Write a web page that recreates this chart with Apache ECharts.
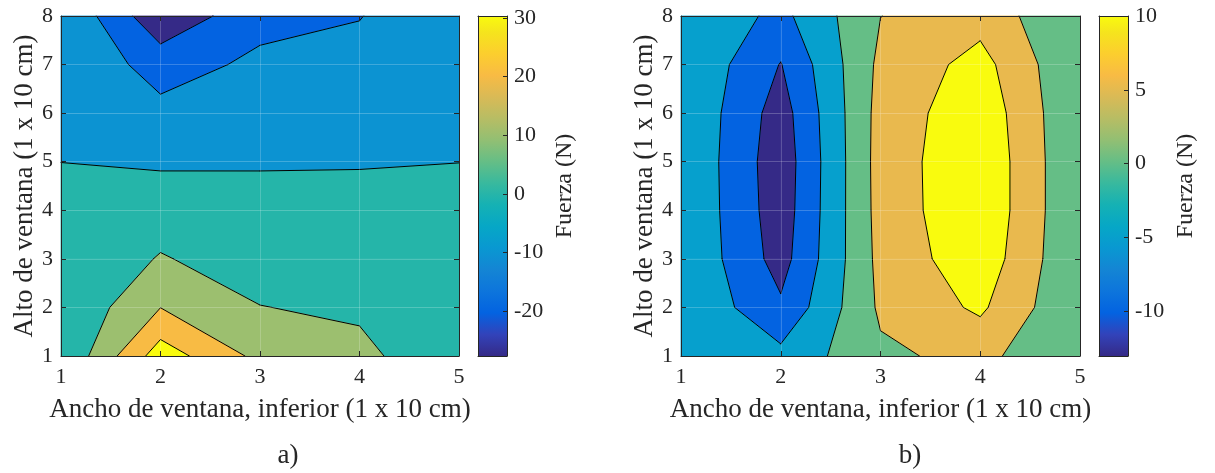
<!DOCTYPE html>
<html><head><meta charset="utf-8">
<script src="https://cdn.jsdelivr.net/npm/echarts@6/dist/echarts.min.js"></script>
<style>html,body{margin:0;padding:0;background:#fff}#c{width:1215px;height:473px}</style>
</head><body><div id="c"></div>
<script>
// ---------- data ----------
const xVals = [1, 2, 3, 4, 5];
const yVals = [1, 2, 3, 4, 5, 6, 7, 8];
// rows: y = 1 (bottom) .. 8 (top); columns: x = 1..5
const zA = [
  [0.3, 35.2, 17.3, 13.1, 0.5],
  [0.5, 19.9, 10.26, 8.1, 4.0],
  [0.3, 10.75, 4.98, 6.0, 3.0],
  [3.0, 5.0, 4.0, 3.0, 2.0],
  [-0.05, -1.17, -0.94, -0.57, -0.05],
  [-1.5, -7.18, -4.0, -3.0, -1.5],
  [-0.7, -14.4, -7.9, -7.3, -2.0],
  [-0.2, -27.6, -13.2, -10.3, -2.8]
];
const zB = [
  [-0.1, -3.6, 4.1, 6.4, 0.1],
  [-0.1, -9.21, 5.83, 10.85, 0.1],
  [-0.1, -12.0, 6.5, 13.25, 0.1],
  [-0.1, -12.75, 6.86, 14.2, 0.1],
  [-0.1, -13.05, 7.0, 14.2, 0.1],
  [-0.1, -12.3, 6.8, 13.5, 0.1],
  [-0.1, -10.2, 6.14, 11.8, 0.1],
  [-0.1, -6.4, 4.95, 8.13, 0.1]
];
const levelsA = [-20, -10, 0, 10, 20, 30];
const levelsB = [-10, -5, 0, 5, 10];
const cbarRangeA = [-27.6, 30.3];
const cbarRangeB = [-13.05, 10];
const cbarTicksA = [-20, -10, 0, 10, 20, 30];
const cbarTicksB = [-10, -5, 0, 5, 10];
const xTitle = 'Ancho de ventana, inferior (1 x 10 cm)';
const yTitle = 'Alto de ventana (1 x 10 cm)';
const cTitle = 'Fuerza (N)';
const panelLabels = ['a)', 'b)'];

// ---------- styles ----------
const bandColorsA = ['#352a87', '#0363e1', '#0c93d2', '#25b5a9', '#9cbf6f', '#f8bb44', '#f9fb0e'];
const bandColorsB = ['#352a87', '#0363e1', '#06a0cd', '#65be86', '#e9b94e', '#f9fb0e'];
const parulaStops = [
  [0, '#352a87'], [4, '#3243ba'], [8, '#0363e1'], [12, '#0d75dc'], [16, '#1485d4'],
  [20, '#0998d1'], [24, '#06a7c6'], [28, '#15b1b4'], [32, '#38b99e'], [36, '#65be86'],
  [40, '#92bf73'], [44, '#b7bd64'], [48, '#d9ba56'], [52, '#f8bb44'], [56, '#fcce2e'],
  [60, '#f5e41d'], [63, '#f9fb0e']
];
const FONT = '"Liberation Serif", "Times New Roman", serif';
const INK = '#262626';

// ---------- contour geometry (from the grid values) ----------
function clip(poly, L, keepAbove) {
  if (!isFinite(L)) return poly;
  const inside = p => keepAbove ? p[2] >= L : p[2] <= L;
  const res = [];
  for (let k = 0; k < poly.length; k++) {
    const a = poly[k], b = poly[(k + 1) % poly.length];
    const ia = inside(a), ib = inside(b);
    if (ia) res.push(a);
    if (ia !== ib) {
      const t = (L - a[2]) / (b[2] - a[2]);
      res.push([a[0] + t * (b[0] - a[0]), a[1] + t * (b[1] - a[1]), L]);
    }
  }
  return res;
}
function cellCorners(z, i, j) {
  return [
    [xVals[i], yVals[j], z[j][i]],
    [xVals[i + 1], yVals[j], z[j][i + 1]],
    [xVals[i + 1], yVals[j + 1], z[j + 1][i + 1]],
    [xVals[i], yVals[j + 1], z[j + 1][i]]
  ];
}
function bandPolys(z, levels) {
  const bounds = [-Infinity].concat(levels, [Infinity]);
  const out = [];
  for (let j = 0; j < yVals.length - 1; j++) {
    for (let i = 0; i < xVals.length - 1; i++) {
      const quad = cellCorners(z, i, j);
      for (let b = 0; b < bounds.length - 1; b++) {
        let p = clip(quad, bounds[b], true);
        p = clip(p, bounds[b + 1], false);
        if (p.length >= 3) out.push({ band: b, pts: p });
      }
    }
  }
  return out;
}
function contourSegs(z, levels) {
  const segs = [];
  for (let j = 0; j < yVals.length - 1; j++) {
    for (let i = 0; i < xVals.length - 1; i++) {
      const c = cellCorners(z, i, j);
      levels.forEach(L => {
        const pts = [];
        for (let k = 0; k < 4; k++) {
          const a = c[k], b = c[(k + 1) % 4];
          if ((a[2] < L) !== (b[2] < L)) {
            const t = (L - a[2]) / (b[2] - a[2]);
            pts.push([a[0] + t * (b[0] - a[0]), a[1] + t * (b[1] - a[1])]);
          } else {
            pts.push(null);
          }
        }
        const got = pts.map((p, k) => p ? k : -1).filter(k => k >= 0);
        if (got.length === 2) segs.push([pts[got[0]], pts[got[1]]]);
        else if (got.length === 4) {
          const center = (c[0][2] + c[1][2] + c[2][2] + c[3][2]) / 4;
          if ((center < L) === (c[0][2] < L)) {
            segs.push([pts[0], pts[1]]); segs.push([pts[2], pts[3]]);
          } else {
            segs.push([pts[3], pts[0]]); segs.push([pts[1], pts[2]]);
          }
        }
      });
    }
  }
  return segs;
}

const polysA = bandPolys(zA, levelsA), polysB = bandPolys(zB, levelsB);
const segsA = contourSegs(zA, levelsA), segsB = contourSegs(zB, levelsB);

function fillSeries(polys, colors, gi) {
  return {
    type: 'custom', xAxisIndex: gi * 2, yAxisIndex: gi * 2, z: 2, silent: true,
    data: polys.map((p, k) => [p.pts[0][0], p.pts[0][1], k]),
    encode: { x: 0, y: 1 },
    renderItem: (params, api) => {
      const p = polys[params.dataIndex];
      const pts = p.pts.map(q => api.coord([q[0], q[1]]));
      const col = colors[p.band];
      return { type: 'polygon', shape: { points: pts }, style: { fill: col, stroke: col, lineWidth: 0.8 } };
    }
  };
}
function lineSeries(segs, gi) {
  return {
    type: 'custom', xAxisIndex: gi * 2, yAxisIndex: gi * 2, z: 3, silent: true,
    data: segs.map((s, k) => [s[0][0], s[0][1], k]),
    encode: { x: 0, y: 1 },
    renderItem: (params, api) => {
      const s = segs[params.dataIndex];
      const a = api.coord(s[0]), b = api.coord(s[1]);
      return { type: 'line', shape: { x1: a[0], y1: a[1], x2: b[0], y2: b[1] },
               style: { stroke: '#000', lineWidth: 1, lineCap: 'round' } };
    }
  };
}
function cbarSeries(range, gi) {
  return {
    type: 'custom', xAxisIndex: gi * 2, yAxisIndex: gi * 2, z: 2, silent: true,
    data: [[0, range[0], 1, range[1]]],
    renderItem: (params, api) => {
      const p0 = api.coord([0, range[0]]), p1 = api.coord([1, range[1]]);
      const grad = new echarts.graphic.LinearGradient(0, 1, 0, 0,
        parulaStops.map(s => ({ offset: s[0] / 63, color: s[1] })));
      return { type: 'rect', shape: { x: p0[0], y: p1[1], width: p1[0] - p0[0], height: p0[1] - p1[1] },
               style: { fill: grad } };
    }
  };
}

// ---------- axes ----------
const axLine = { show: true, onZero: false, lineStyle: { color: INK, width: 1 } };
const axTick = { show: true, inside: true, length: 5, lineStyle: { color: INK, width: 1 } };
const axLab = { color: INK, fontFamily: FONT, fontSize: 22 };
const nameStyle = { color: INK, fontFamily: FONT, fontSize: 27 };
const gridSplit = { show: true, showMinLine: false, showMaxLine: false, lineStyle: { color: 'rgba(255,255,255,0.2)', width: 1 } };

const xAxes = [], yAxes = [];
function addPanel(g) {
  xAxes.push({ type: 'value', gridIndex: g, position: 'bottom', min: 1, max: 5, interval: 1,
    axisLine: axLine, axisTick: axTick, axisLabel: Object.assign({ margin: 10, showMinLabel: true, showMaxLabel: true }, axLab),
    splitLine: gridSplit, name: xTitle, nameLocation: 'middle', nameGap: 40, nameTextStyle: nameStyle, z: 10 });
  xAxes.push({ type: 'value', gridIndex: g, position: 'top', min: 1, max: 5, interval: 1,
    axisLine: axLine, axisTick: axTick, axisLabel: { show: false }, splitLine: { show: false }, z: 10 });
  yAxes.push({ type: 'value', gridIndex: g, position: 'left', min: 1, max: 8, interval: 1,
    axisLine: axLine, axisTick: axTick, axisLabel: Object.assign({ margin: 8, showMinLabel: true, showMaxLabel: true }, axLab),
    splitLine: gridSplit, name: yTitle, nameLocation: 'middle', nameGap: 22, nameRotate: 90, nameTextStyle: nameStyle, z: 10 });
  yAxes.push({ type: 'value', gridIndex: g, position: 'right', min: 1, max: 8, interval: 1,
    axisLine: axLine, axisTick: axTick, axisLabel: { show: false }, splitLine: { show: false }, z: 10 });
}
function addCbar(g, range, ticks) {
  const plain = { type: 'value', gridIndex: g, min: 0, max: 1, axisLine: axLine, axisTick: { show: false },
    axisLabel: { show: false }, splitLine: { show: false }, z: 10 };
  xAxes.push(Object.assign({ position: 'bottom' }, plain));
  xAxes.push(Object.assign({ position: 'top' }, plain));
  yAxes.push({ type: 'value', gridIndex: g, position: 'right', min: range[0], max: range[1],
    axisLine: axLine,
    axisTick: { show: true, inside: true, length: 4, lineStyle: { color: INK, width: 1 }, customValues: ticks },
    axisLabel: Object.assign({ margin: 7, customValues: ticks }, axLab),
    splitLine: { show: false }, name: cTitle, nameLocation: 'middle', nameGap: 46, nameRotate: 90,
    nameTextStyle: { color: INK, fontFamily: FONT, fontSize: 24 }, z: 10 });
  yAxes.push({ type: 'value', gridIndex: g, position: 'left', min: range[0], max: range[1],
    axisLine: axLine, axisTick: { show: false }, axisLabel: { show: false }, splitLine: { show: false }, z: 10 });
}
addPanel(0); addCbar(1, cbarRangeA, cbarTicksA); addPanel(2); addCbar(3, cbarRangeB, cbarTicksB);

const chart = echarts.init(document.getElementById('c'), null, { renderer: 'canvas' });
chart.setOption({
  animation: false,
  backgroundColor: '#fff',
  grid: [
    { left: 61, top: 16, width: 398, height: 340 },
    { left: 478, top: 16, width: 29, height: 340 },
    { left: 681, top: 16, width: 399, height: 340 },
    { left: 1099, top: 16, width: 29, height: 340 }
  ],
  xAxis: xAxes,
  yAxis: yAxes,
  series: [
    fillSeries(polysA, bandColorsA, 0), lineSeries(segsA, 0), cbarSeries(cbarRangeA, 1),
    fillSeries(polysB, bandColorsB, 2), lineSeries(segsB, 2), cbarSeries(cbarRangeB, 3)
  ],
  graphic: [
    { type: 'text', x: 288, y: 456, style: { text: panelLabels[0], fontFamily: FONT, fontSize: 27, fill: INK, align: 'center', verticalAlign: 'middle' } },
    { type: 'text', x: 910, y: 456, style: { text: panelLabels[1], fontFamily: FONT, fontSize: 27, fill: INK, align: 'center', verticalAlign: 'middle' } }
  ]
});
</script></body></html>
